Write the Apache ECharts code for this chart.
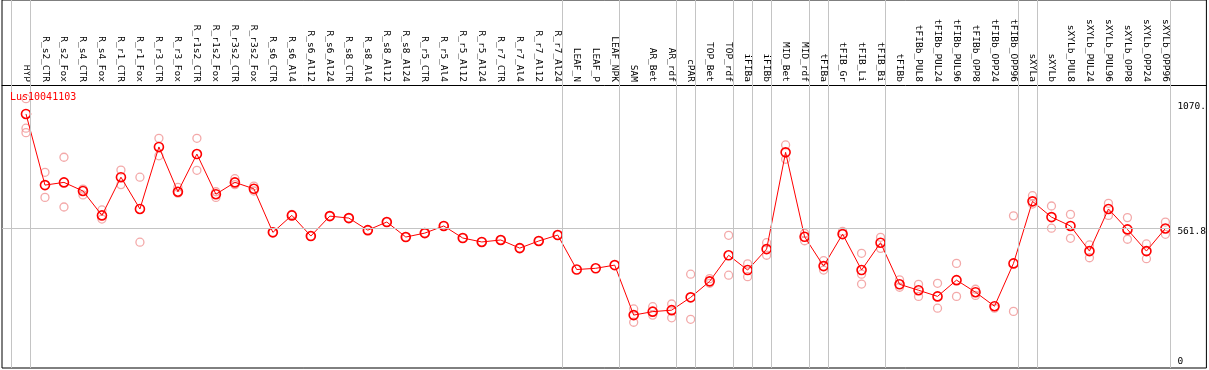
<!DOCTYPE html>
<html><head><meta charset="utf-8">
<script src="https://cdn.jsdelivr.net/npm/echarts@6/dist/echarts.min.js"></script>
<style>html,body{margin:0;padding:0;background:#fff}#c{width:1209px;height:370px}</style>
</head><body><div id="c"></div>
<script>
const chartTitle = 'Lus10041103';
const categories = ['HYP','R_s2_CTR','R_s2_Fox','R_s4_CTR','R_s4_Fox','R_r1_CTR','R_r1_Fox','R_r3_CTR','R_r3_Fox','R_r1s2_CTR','R_r1s2_Fox','R_r3s2_CTR','R_r3s2_Fox','R_s6_CTR','R_s6_Al4','R_s6_Al12','R_s6_Al24','R_s8_CTR','R_s8_Al4','R_s8_Al12','R_s8_Al24','R_r5_CTR','R_r5_Al4','R_r5_Al12','R_r5_Al24','R_r7_CTR','R_r7_Al4','R_r7_Al12','R_r7_Al24','LEAF_N','LEAF_P','LEAF_NPK','SAM','AR_Bet','AR_rdf','cPAR','TOP_Bet','TOP_rdf','iFIBa','iFIBb','MID_Bet','MID_rdf','tFIBa','tFIB_Gr','tFIB_Li','tFIB_Bi','tFIBb','tFIBb_PUL8','tFIBb_PUL24','tFIBb_PUL96','tFIBb_OPP8','tFIBb_OPP24','tFIBb_OPP96','sXYLa','sXYLb','sXYLb_PUL8','sXYLb_PUL24','sXYLb_PUL96','sXYLb_OPP8','sXYLb_OPP24','sXYLb_OPP96'];
const meanValues = [1025,736,747,712,613,768,639,891,709,862,699,747,721,544,613,
  529,610,602,553,586,525,541,570,521,505,513,480,509,533,
  393,398,411,
  208,222,228,280,345,451,391,476,869,526,407,537,391,502,
  333,309,284,350,301,244,418,
  670,606,570,468,639,556,468,560];
const replicateValues = [[1087,967,949],[788,686],[849,647],[720,696],[635,598],[797,738],[768,504],[926,855],[727,703],[926,796],[709,686],[762,738],[732,712],[544],[617],
  [529],[610],[602],[553],[586],[525],[541],[570],[521],[505],[513],[480],[509],[533],
  [],[],[],
  [233,179],[242,208],[253,197],[374,191],[356,337],[532,370],[416,364],[502,451],[899,841],[540,510],[429,391],[548],[459,374,334],[524,479],
  [351,321],[333,284],[337,236],[418,284],[313,288],[236],[611,223],
  [693,659],[651,561],[617,520],[493,441],[662,613],[604,516],[497,437],[586,536]];
// groups end after these category indices (vertical separators)
const groupEnds = [-1,0,28,31,34,35,37,38,39,41,42,45,52,53,60];
const yTickValues = [0,561.8,1070];
const yTickLabels = ['0','561.8','1070.'];
const refLineValue = 561.8;

const MONO = 'DejaVu Sans Mono';
const xMin = -1.263, xMax = 62.158;
const sepOffset = 0.237;

const meanData = meanValues.map((v,i)=>[i,v]);
const repData = [];
replicateValues.forEach((arr,i)=>arr.forEach(v=>repData.push([i,v])));

const chart = echarts.init(document.getElementById('c'), null, {renderer:'canvas'});
chart.setOption({
  animation:false,
  backgroundColor:'#fff',
  title:{text:chartTitle,left:10,top:92,padding:0,textStyle:{color:'#ff0000',fontSize:10,fontWeight:'normal',fontFamily:MONO},z:10},
  grid:{left:2,right:2,top:0,bottom:2,show:true,borderColor:'#000',borderWidth:1,backgroundColor:'transparent'},
  xAxis:{type:'value',min:xMin,max:xMax,position:'top',offset:-85,
    axisLine:{show:true,onZero:false,lineStyle:{color:'#000',width:1}},
    axisTick:{show:false},splitLine:{show:false},
    axisLabel:{customValues:categories.map((c,i)=>i),formatter:v=>categories[Math.round(v)]||'',rotate:90,margin:3,
      fontSize:9.5,fontFamily:MONO,color:'#000',showMinLabel:true,showMaxLabel:true,hideOverlap:false}},
  yAxis:{type:'value',min:-6.9,max:1487.8,position:'right',offset:-29,
    axisLine:{show:false},axisTick:{show:false},splitLine:{show:false},
    axisLabel:{customValues:yTickValues,margin:0,align:'left',verticalAlign:'middle',
      formatter:v=>{const k=yTickValues.indexOf(v);const t=k>=0?yTickLabels[k]:'';return v===0?'{z|'+t+'}':'{n|'+t+'}';},
      rich:{n:{fontSize:9.5,fontFamily:MONO,color:'#000',padding:[8,0,0,0]},z:{fontSize:9.5,fontFamily:MONO,color:'#000',padding:[0,0,9,0]}}}},
  series:[
    {type:'line',data:[],z:1,silent:true,
      markLine:{silent:true,symbol:['none','none'],animation:false,label:{show:false},
        lineStyle:{color:'#c4c4c4',width:1,type:'solid'},
        data:groupEnds.map(b=>({xAxis:b+sepOffset})).concat([[{coord:[xMin,refLineValue]},{coord:[60+sepOffset,refLineValue]}]])}},
    {type:'scatter',data:repData,z:3,symbol:'circle',symbolSize:8,silent:true,
      itemStyle:{color:'rgba(255,255,255,0)',borderColor:'#f09494',borderWidth:1.3}},
    {type:'line',data:meanData,z:4,symbol:'circle',symbolSize:9,showSymbol:true,silent:true,
      lineStyle:{color:'#ff0000',width:1},
      itemStyle:{color:'rgba(255,255,255,0)',borderColor:'#ff0000',borderWidth:1.6}}
  ]
});
</script></body></html>
